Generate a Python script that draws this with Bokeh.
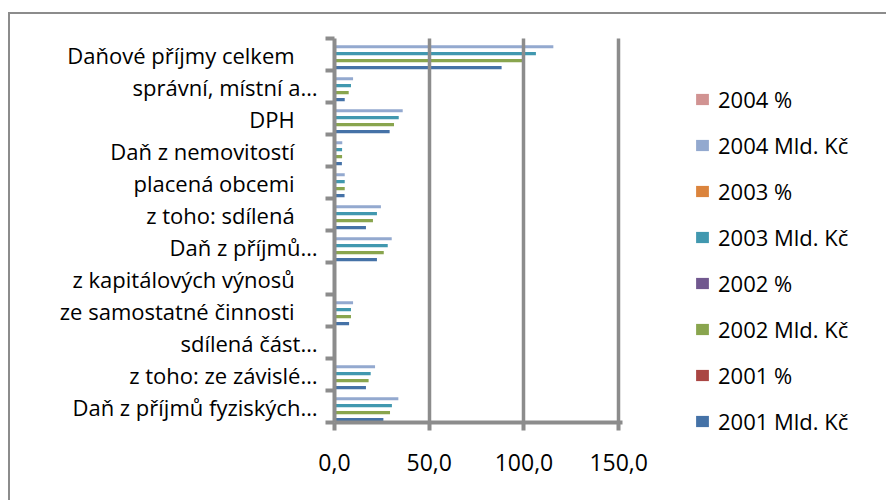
from bokeh.plotting import figure
from bokeh.models import Range1d, FixedTicker, Legend, LegendItem, ColumnDataSource
from bokeh.transform import dodge
from bokeh.embed import file_html
from bokeh.resources import INLINE

# ---- data (bottom -> top order of the category axis) ----
categories = ["Daň z příjmů fyziských…", "z toho: ze závislé…", "sdílená část…",
              "ze samostatné činnosti", "z kapitálových výnosů", "Daň z příjmů…",
              "z toho: sdílená", "placená obcemi", "Daň z nemovitostí", "DPH",
              "správní, místní a…", "Daňové příjmy celkem"]

mld_2001 = [25.8, 16.6, 0.0, 7.7, 0.0, 22.4, 16.6, 5.3, 3.9, 29.1, 5.4, 88.2]
pct_2001 = [0.0] * 12
mld_2002 = [29.3, 18.0, 0.0, 8.7, 0.0, 26.0, 20.3, 5.4, 4.0, 31.4, 7.5, 99.3]
pct_2002 = [0.0] * 12
mld_2003 = [30.3, 19.1, 0.0, 8.7, 0.0, 28.1, 22.4, 5.4, 4.0, 33.9, 8.7, 106.3]
pct_2003 = [0.0] * 12
mld_2004 = [33.7, 21.4, 0.0, 9.8, 0.0, 30.2, 24.5, 5.4, 4.1, 36.0, 9.8, 115.5]
pct_2004 = [0.0] * 12

series_names = ["2001 Mld. Kč", "2001 %", "2002 Mld. Kč", "2002 %",
                "2003 Mld. Kč", "2003 %", "2004 Mld. Kč", "2004 %"]
series_values = [mld_2001, pct_2001, mld_2002, pct_2002, mld_2003, pct_2003, mld_2004, pct_2004]
series_colors = ["#4572A7", "#AA4643", "#89A54E", "#71588F",
                 "#4198AF", "#DB843D", "#93A9CF", "#D19392"]

x_ticks = [0, 50, 100, 150]

FONT = "Open Sans"
GRAY = "#8c8c8c"

n = len(categories)
centres = [i + 0.5 for i in range(n)]      # category slots on the y scale
boundaries = list(range(n + 1))

p = figure(frame_width=288, frame_height=384, output_backend="svg", toolbar_location=None,
           y_range=Range1d(0, n), x_range=Range1d(0, 152),
           min_border_left=324, min_border_right=264,
           min_border_top=24, min_border_bottom=78, outline_line_color=None,
           background_fill_color="white", border_fill_color="white")
p.styles = {"margin-left": "8px", "margin-top": "12px",
            "border-left": f"2px solid {GRAY}", "border-top": f"2px solid {GRAY}"}

src = ColumnDataSource(dict(cat=categories, pos=centres,
                            **{f"s{i}": v for i, v in enumerate(series_values)}))
slot = 0.109
renderers = []
for i, name in enumerate(series_names):
    r = p.hbar(y=dodge("pos", (i - 3.5) * slot - 0.03), right=f"s{i}", left=0,
               height=0.1, source=src, fill_color=series_colors[i], line_color=None)
    renderers.append(r)

# x axis
xa = p.xaxis[0]
xa.ticker = FixedTicker(ticks=x_ticks, minor_ticks=[])
xa.major_label_overrides = {t: f"{t:.1f}".replace(".", ",") for t in x_ticks}
xa.axis_line_color = GRAY
xa.axis_line_width = 4
xa.major_tick_line_color = GRAY
xa.major_tick_line_width = 4
xa.major_tick_out = 8
xa.major_tick_in = 0
xa.minor_tick_line_color = None
xa.major_label_text_font = FONT
xa.major_label_text_font_size = "23px"
xa.major_label_text_color = "black"
xa.major_label_standoff = 23

p.xgrid.ticker = FixedTicker(ticks=x_ticks[1:])
p.xgrid.grid_line_color = GRAY
p.xgrid.grid_line_width = 3.5
p.xgrid.level = "overlay"
p.ygrid.grid_line_color = None

# y axis: labels at category centres, ticks at category boundaries
pad = {"Daňové příjmy celkem", "DPH", "Daň z nemovitostí", "placená obcemi", "z toho: sdílená",
       "z kapitálových výnosů", "ze samostatné činnosti"}
ya = p.yaxis[0]
ya.ticker = FixedTicker(ticks=centres, minor_ticks=boundaries)
ya.major_label_overrides = {c: (lab + "\u00a0" * 4 if lab in pad else lab) for c, lab in zip(centres, categories)}
ya.axis_line_color = GRAY
ya.axis_line_width = 4
ya.major_tick_line_color = None
ya.major_tick_out = 0
ya.major_tick_in = 0
ya.minor_tick_line_color = GRAY
ya.minor_tick_line_width = 4
ya.minor_tick_out = 9
ya.minor_tick_in = 0
ya.major_label_text_font = FONT
ya.major_label_text_font_size = "22px"
ya.major_label_text_color = "black"
ya.major_label_standoff = 8

legend_order = [7, 6, 5, 4, 3, 2, 1, 0]
legend = Legend(items=[LegendItem(label=series_names[i], renderers=[renderers[i]]) for i in legend_order],
                location=(72, -14), padding=0, margin=0, border_line_color=None,
                background_fill_alpha=0, glyph_width=16, glyph_height=14, label_height=28,
                spacing=16, label_standoff=8, label_text_font=FONT, label_text_font_size="22px",
                label_text_color="black")
p.add_layout(legend, "right")

open("out.html", "w").write(file_html(p, INLINE))
